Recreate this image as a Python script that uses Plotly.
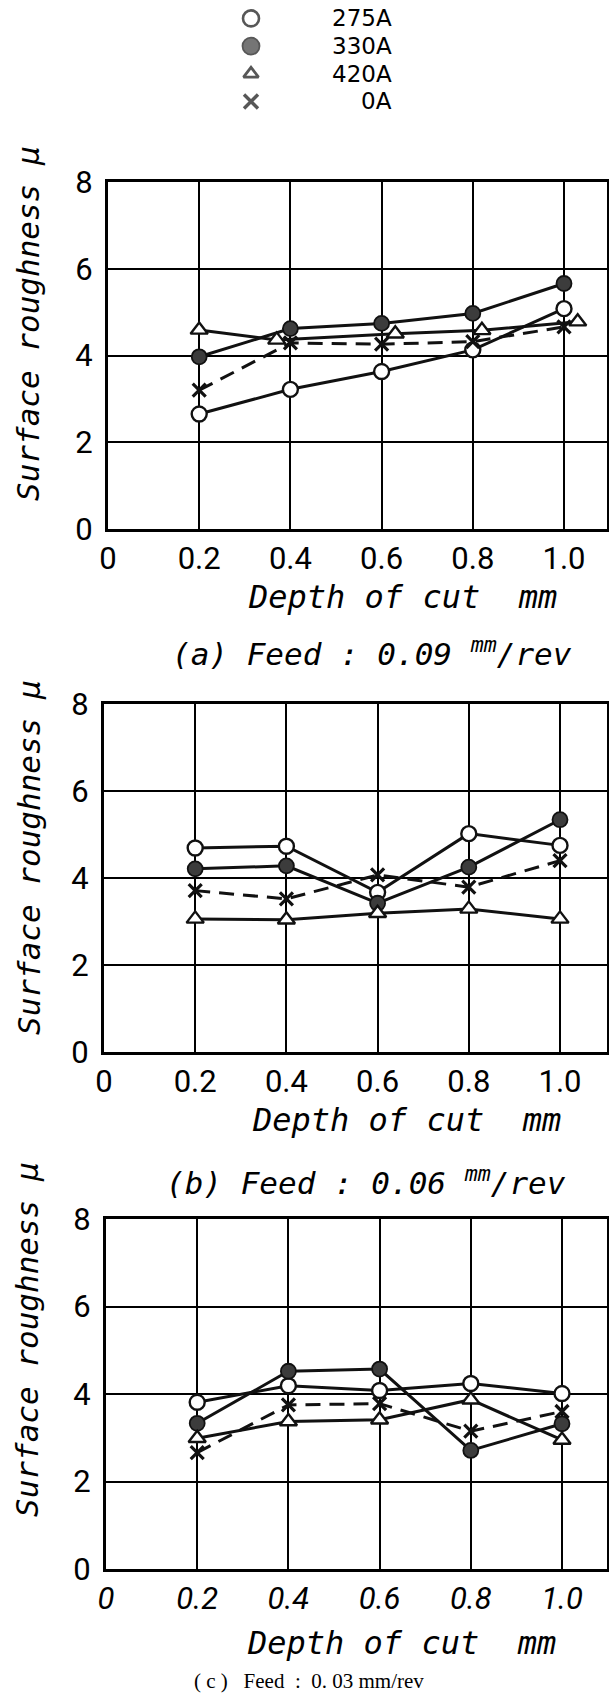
import plotly.graph_objects as go

W, H = 609, 1693

# ---------------- data ----------------
depth = [0.2, 0.4, 0.6, 0.8, 1.0]
x_ticks = [0, 0.2, 0.4, 0.6, 0.8, 1.0]
x_tick_labels = ["0", "0.2", "0.4", "0.6", "0.8", "1.0"]
y_ticks = [0, 2, 4, 6, 8]
series_names = ["275A", "330A", "420A", "0A"]

# (a) Feed 0.09 mm/rev
a_275 = [2.65, 3.22, 3.63, 4.13, 5.08]
a_330 = [3.97, 4.62, 4.74, 4.97, 5.66]
a_420 = [4.59, 4.36, 4.50, 4.58, 4.78]
a_420_depth = [0.2, 0.37, 0.63, 0.82, 1.03]
a_0 = [3.20, 4.29, 4.26, 4.32, 4.66]

# (b) Feed 0.06 mm/rev
b_275 = [4.69, 4.73, 3.67, 5.02, 4.75]
b_330 = [4.21, 4.28, 3.42, 4.25, 5.34]
b_420 = [3.06, 3.04, 3.19, 3.29, 3.06]
b_0 = [3.71, 3.52, 4.07, 3.79, 4.40]

# (c) Feed 0.03 mm/rev
c_275 = [3.81, 4.19, 4.08, 4.24, 4.01]
c_330 = [3.33, 4.52, 4.57, 2.71, 3.32]
c_420 = [2.99, 3.37, 3.41, 3.87, 2.95]
c_0 = [2.66, 3.75, 3.78, 3.15, 3.60]

legend_rows = [0, 1, 2, 3]

# ---------------- styles ----------------
LINE = "#111111"
styles = {
    "275A": dict(symbol="circle", color="white", size=15, lw=2.4, dash="solid"),
    "330A": dict(symbol="circle", color="#3c3c3c", size=15, lw=1.8, dash="solid"),
    "420A": dict(symbol="triangle-up", color="white", size=15, lw=2.4, dash="solid"),
    "0A": dict(symbol="x-thin", color=LINE, size=13, lw=3.2, dash="15px,9px"),
}

fig = go.Figure()

panels = [
    ("x", "y", [(depth, a_275), (depth, a_330), (a_420_depth, a_420), (depth, a_0)]),
    ("x2", "y2", [(depth, b_275), (depth, b_330), (depth, b_420), (depth, b_0)]),
    ("x3", "y3", [(depth, c_275), (depth, c_330), (depth, c_420), (depth, c_0)]),
]

for xa, ya, data in panels:
    for name, (xs, ys) in zip(series_names, data):
        st = styles[name]
        fig.add_trace(go.Scatter(
            x=xs, y=ys, xaxis=xa, yaxis=ya, mode="lines+markers", name=name,
            showlegend=False,
            line=dict(color=LINE, width=3, dash=st["dash"]),
            marker=dict(symbol=st["symbol"], size=st["size"], color=st["color"],
                        line=dict(color=LINE, width=st["lw"])),
            cliponaxis=False,
        ))

# key at the top
fig.add_trace(go.Scatter(
    x=[0, 0, 0, 0], y=legend_rows, xaxis="x4", yaxis="y4", mode="markers",
    showlegend=False,
    marker=dict(symbol=[styles[n]["symbol"] for n in series_names],
                size=[16, 17, 13, 14],
                color=[styles[n]["color"] for n in series_names],
                line=dict(color=LINE, width=[2.6, 1.8, 2.8, 3.4])),
    cliponaxis=False,
))

def px_x(p):
    return p / W

def px_y(p):
    return 1 - p / H

# panel geometry (pixels)
geo = [
    dict(x0=108, top=182, bot=529),
    dict(x0=104, top=704, bot=1052),
    dict(x0=106, top=1219, bot=1569),
]
RIGHT = 607
PX_PER_UNIT = 456.0

tickfont = dict(family="Roboto, DejaVu Sans", size=31, color="black")

layout_axes = {}
for i, g in enumerate(geo):
    sx = "xaxis" if i == 0 else f"xaxis{i+1}"
    sy = "yaxis" if i == 0 else f"yaxis{i+1}"
    ya = "y" if i == 0 else f"y{i+1}"
    xa = "x" if i == 0 else f"x{i+1}"
    xf = dict(tickfont)
    if i == 2:
        xf["style"] = "italic"
    layout_axes[sx] = dict(
        domain=[px_x(g["x0"]), px_x(RIGHT)],
        range=[0, (RIGHT - g["x0"]) / PX_PER_UNIT],
        anchor=ya, tickvals=x_ticks, ticktext=x_tick_labels,
        showgrid=True, gridcolor="black", gridwidth=2,
        showline=True, linecolor="black", linewidth=3, mirror=True,
        zeroline=False, ticks="", tickfont=xf, ticklabelstandoff=0,
        automargin=False, fixedrange=True,
    )
    layout_axes[sy] = dict(
        domain=[px_y(g["bot"]), px_y(g["top"])],
        range=[0, 8], anchor=xa, tickvals=y_ticks,
        showgrid=True, gridcolor="black", gridwidth=2,
        showline=True, linecolor="black", linewidth=3, mirror=True,
        zeroline=False, ticks="", tickfont=tickfont, ticklabelstandoff=6,
        automargin=False, fixedrange=True,
    )

# key axes
row_y = [18.4, 101.5]
step = (row_y[1] - row_y[0]) / 3
layout_axes["xaxis4"] = dict(domain=[px_x(231), px_x(411)], range=[-20, 160],
                             visible=False, anchor="y4", fixedrange=True,
                             automargin=False)
layout_axes["yaxis4"] = dict(domain=[px_y(row_y[1] + step / 2), px_y(row_y[0] - step / 2)],
                             range=[3.5, -0.5], visible=False, anchor="x4", fixedrange=True,
                             automargin=False)

annotations = []
for r, n in zip(legend_rows, series_names):
    annotations.append(dict(
        xref="x4", yref="y4", x=143, y=r, text=n, showarrow=False,
        xanchor="right", yanchor="middle",
        font=dict(family="DejaVu Sans", size=23, color="black"),
    ))

mono_it = dict(family="DejaVu Sans Mono", size=31, color="black", style="italic")

ytitle_pos = [(28, 324), (29, 858), (27, 1340)]
for (xp, yp) in ytitle_pos:
    annotations.append(dict(
        xref="paper", yref="paper", x=px_x(xp), y=px_y(yp),
        text="Surface roughness μ", textangle=-90, showarrow=False,
        xanchor="center", yanchor="middle", font=mono_it,
    ))

xtitle_pos = [(402, 597), (406, 1120), (401, 1643)]
for (xp, yp) in xtitle_pos:
    annotations.append(dict(
        xref="paper", yref="paper", x=px_x(xp), y=px_y(yp),
        text="Depth of cut\u00a0\u00a0mm", showarrow=False,
        xanchor="center", yanchor="middle",
        font=dict(family="DejaVu Sans Mono", size=32, color="black", style="italic"),
    ))

captions = [
    ((372, 652), "(a) Feed : 0.09 <sup>mm</sup>/rev"),
    ((366, 1181), "(b) Feed : 0.06 <sup>mm</sup>/rev"),
]
for (xp, yp), t in captions:
    annotations.append(dict(
        xref="paper", yref="paper", x=px_x(xp), y=px_y(yp), text=t,
        showarrow=False, xanchor="center", yanchor="middle",
        font=dict(family="DejaVu Sans Mono", size=31, color="black", style="italic"),
    ))

annotations.append(dict(
    xref="paper", yref="paper", x=px_x(309), y=px_y(1681),
    text="( c )\u00a0\u00a0 Feed\u00a0 :\u00a0 0. 03 mm/rev",
    showarrow=False, xanchor="center", yanchor="middle",
    font=dict(family="Liberation Serif, DejaVu Serif", size=21, color="black"),
))

fig.update_layout(
    width=W, height=H,
    margin=dict(l=0, r=0, t=0, b=0, pad=0),
    autosize=False,
    paper_bgcolor="white", plot_bgcolor="white",
    showlegend=False,
    annotations=annotations,
    **layout_axes,
)

fig.write_html(
    "out.html",
    config={"displayModeBar": False},
    post_script="document.body.style.margin='0px';document.body.style.overflow='hidden';",
)
